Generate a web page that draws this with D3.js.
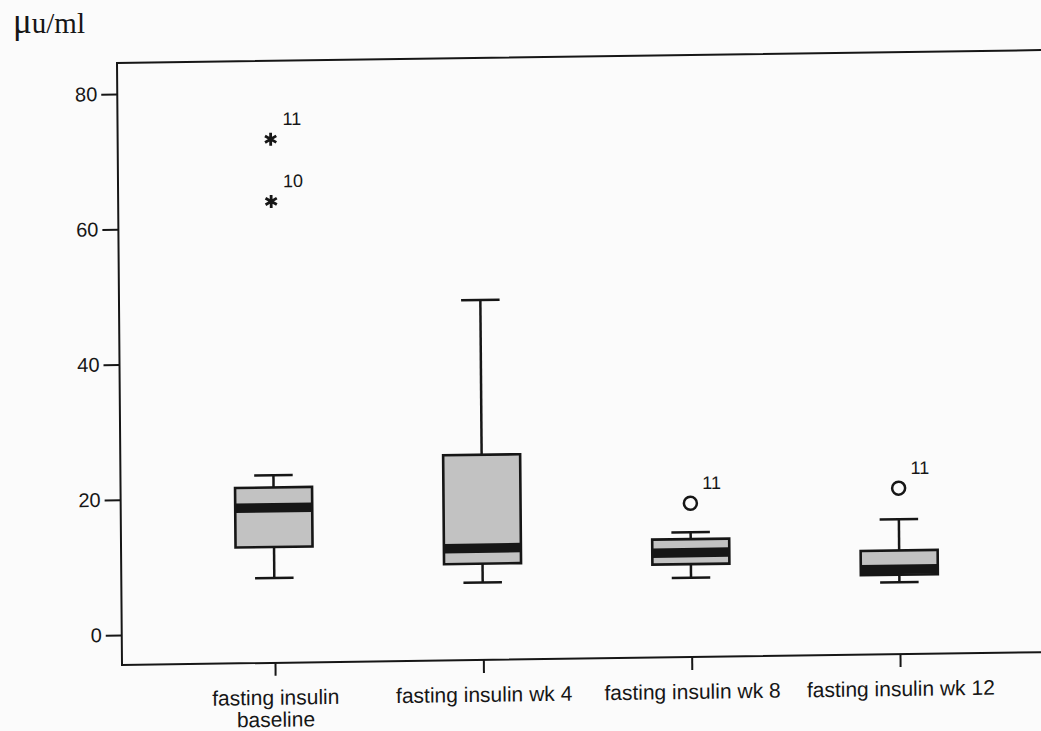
<!DOCTYPE html>
<html>
<head>
<meta charset="utf-8">
<script src="https://cdn.jsdelivr.net/npm/d3@7"></script>
<style>
  body { margin: 0; background: #fbfbfb; }
  svg { display: block; font-family: 'Liberation Sans', Arial, sans-serif; }
</style>
</head>
<body>
<div id="container"></div>
<script>
// box plot values (µu/ml)
const categories = ['fasting insulin baseline', 'fasting insulin wk 4', 'fasting insulin wk 8', 'fasting insulin wk 12'];
const whiskerLow = [8.1, 7.0, 7.3, 6.2];
const q1 = [12.7, 9.8, 9.3, 7.3];
const median = [18.5, 12.1, 11.0, 8.1];
const q3 = [21.5, 25.9, 13.0, 10.9];
const whiskerHigh = [23.3, 48.8, 14.0, 15.5];

// outliers: which box, value, case number, kind (extreme = star, outlier = circle)
const outlierBox = [0, 0, 2, 3];
const outlierValue = [73.0, 63.8, 18.3, 20.1];
const outlierCase = ['11', '10', '11', '11'];
const outlierKind = ['extreme', 'extreme', 'outlier', 'outlier'];

const yTicks = [0, 20, 40, 60, 80];
const unitLabel = 'u/ml';

const width = 1041, height = 731;
const margin = { top: 63, left: 122, bottom: 665 };
const boxWidth = 77;
const bandHeight = 9.5;
const ink = '#161616';

const svg = d3.select('#container').append('svg')
  .attr('width', width)
  .attr('height', height);

// unit label, top left
const unit = svg.append('text')
  .attr('x', 13)
  .attr('y', 33)
  .style('font-family', "'Liberation Serif', 'Times New Roman', serif")
  .attr('fill', ink);
unit.append('tspan').attr('font-size', 35).text('\u03bc');
unit.append('tspan').attr('font-size', 29).text(unitLabel);

// the scan is slightly skewed, so the plot is sheared a little
const g = svg.append('g')
  .attr('transform', `translate(${margin.left},${margin.bottom}) matrix(1,-0.014,0.0083,1,0,0) translate(${-margin.left},${-margin.bottom})`);

const x = d3.scalePoint().domain(categories).range([275, 900]);
const y = d3.scaleLinear().domain([0, 80]).range([635, 94]);

// frame (open on the right)
g.append('path')
  .attr('d', `M1080,${margin.top}H${margin.left}V${margin.bottom}H1080`)
  .attr('fill', 'none')
  .attr('stroke', ink)
  .attr('stroke-width', 2);

// y axis
const yAxis = g.append('g')
  .attr('transform', `translate(${margin.left},0)`)
  .call(d3.axisLeft(y).tickValues(yTicks).tickSize(16).tickPadding(4));
yAxis.select('.domain').remove();
yAxis.selectAll('line').attr('stroke', ink).attr('stroke-width', 2);
yAxis.selectAll('text').attr('font-size', 20).attr('fill', ink).style('font-family', "'Liberation Sans', Arial, sans-serif");

// x axis
const xAxis = g.append('g')
  .attr('transform', `translate(0,${margin.bottom})`)
  .call(d3.axisBottom(x).tickSize(13).tickPadding(14));
xAxis.select('.domain').remove();
xAxis.selectAll('line').attr('stroke', ink).attr('stroke-width', 2);
xAxis.selectAll('text')
  .attr('font-size', 21)
  .attr('fill', ink)
  .style('font-family', "'Liberation Sans', Arial, sans-serif")
  .call(wrap, 205);

function wrap(texts, maxWidth) {
  texts.each(function() {
    const text = d3.select(this);
    const words = text.text().split(/\s+/);
    const yPos = text.attr('y');
    const dy = parseFloat(text.attr('dy'));
    let line = [];
    let lineNo = 0;
    let tspan = text.text(null).append('tspan').attr('x', 0).attr('y', yPos).attr('dy', dy + 'em');
    words.forEach((word) => {
      line.push(word);
      tspan.text(line.join(' '));
      if (tspan.node().getComputedTextLength() > maxWidth && line.length > 1) {
        line.pop();
        tspan.text(line.join(' '));
        line = [word];
        lineNo++;
        tspan = text.append('tspan').attr('x', 0).attr('y', yPos)
          .attr('dy', (lineNo * 1.05 + dy) + 'em').text(word);
      }
    });
  });
}

// boxes
const boxes = g.append('g')
  .selectAll('g')
  .data(categories)
  .enter()
  .append('g')
  .attr('transform', (d) => `translate(${x(d)},0)`);

boxes.append('line')
  .attr('y1', (d, i) => y(whiskerHigh[i]))
  .attr('y2', (d, i) => y(whiskerLow[i]))
  .attr('stroke', ink)
  .attr('stroke-width', 2.5);

boxes.append('line')
  .attr('x1', -boxWidth / 4)
  .attr('x2', boxWidth / 4)
  .attr('y1', (d, i) => y(whiskerHigh[i]))
  .attr('y2', (d, i) => y(whiskerHigh[i]))
  .attr('stroke', ink)
  .attr('stroke-width', 2.5);

boxes.append('line')
  .attr('x1', -boxWidth / 4)
  .attr('x2', boxWidth / 4)
  .attr('y1', (d, i) => y(whiskerLow[i]))
  .attr('y2', (d, i) => y(whiskerLow[i]))
  .attr('stroke', ink)
  .attr('stroke-width', 2.5);

boxes.append('rect')
  .attr('x', -boxWidth / 2)
  .attr('width', boxWidth)
  .attr('y', (d, i) => y(q3[i]))
  .attr('height', (d, i) => y(q1[i]) - y(q3[i]))
  .attr('fill', '#c2c2c2')
  .attr('stroke', ink)
  .attr('stroke-width', 2.6);

// thick median band, kept inside the box
boxes.append('rect')
  .attr('x', -boxWidth / 2)
  .attr('width', boxWidth)
  .attr('y', (d, i) => Math.max(y(q3[i]), y(median[i]) - bandHeight / 2))
  .attr('height', (d, i) => {
    const top = Math.max(y(q3[i]), y(median[i]) - bandHeight / 2);
    const bottom = Math.min(y(q1[i]), y(median[i]) + bandHeight / 2);
    return bottom - top;
  })
  .attr('fill', ink);

// outliers
const outliers = g.append('g')
  .selectAll('g')
  .data(outlierValue)
  .enter()
  .append('g')
  .attr('transform', (d, i) => `translate(${x(categories[outlierBox[i]])},${y(d)})`);

outliers.filter((d, i) => outlierKind[i] === 'outlier')
  .append('circle')
  .attr('r', 6.5)
  .attr('fill', '#fbfbfb')
  .attr('stroke', ink)
  .attr('stroke-width', 2.5);

outliers.filter((d, i) => outlierKind[i] === 'extreme')
  .append('path')
  .attr('d', () => {
    const r = 6.5;
    return [90, 30, 150].map((a) => {
      const rad = a * Math.PI / 180;
      const dx = r * Math.cos(rad), dy = r * Math.sin(rad);
      return `M${-dx},${-dy}L${dx},${dy}`;
    }).join('');
  })
  .attr('stroke', ink)
  .attr('stroke-width', 2.8);

outliers.append('text')
  .attr('x', 12)
  .attr('y', -14)
  .attr('font-size', 18)
  .attr('fill', ink)
  .text((d, i) => outlierCase[i]);
</script>
</body>
</html>
